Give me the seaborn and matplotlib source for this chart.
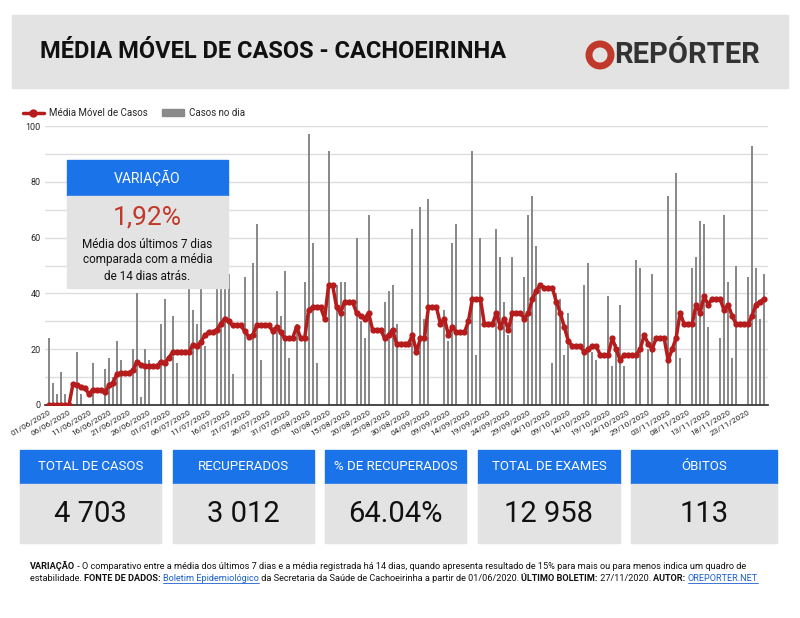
import matplotlib
matplotlib.use("Agg")
import matplotlib.pyplot as plt
from matplotlib.patches import Rectangle, Ellipse
from matplotlib.lines import Line2D
import numpy as np
import pandas as pd
import seaborn as sns

# Data
dates = pd.date_range("2020-06-01", "2020-11-27", freq="D")

media_movel = [
    0, 0, 0, 0, 0, 0, 7.5, 7, 6.5, 6, 4, 5.5, 5.5, 5.5, 4.5, 7, 8, 11, 11.5, 11.5,
    11.5, 12.5, 15.5, 14.5, 14, 14, 14, 14, 15.5, 15, 17, 19, 19, 19, 19, 19, 21.5, 21, 22.5, 25,
    26, 26, 27, 29, 31, 30, 28.5, 28.5, 28.5, 26.5, 24.5, 25, 28.5, 28.5, 28.5, 28.5, 26.5, 28, 26, 24,
    24, 24, 28, 24, 24, 34, 35, 35, 35, 31, 43, 43, 35, 33, 37, 37, 37, 33, 32, 31,
    33, 27, 27, 27, 24, 25, 27, 22, 22, 22, 22, 25, 19, 24, 24, 35, 35, 35, 29, 31,
    25, 28, 26, 26, 26, 30, 38, 38, 38, 29, 29, 29, 33, 28, 31, 27, 33, 33, 33, 31,
    33, 38, 41, 43, 42, 42, 42, 37, 33, 28, 23, 21, 21, 21, 19, 20, 21, 21, 18, 18,
    18, 24, 20, 16, 18, 18, 18, 18, 20, 25, 22, 20, 24, 24, 24, 16, 20, 24, 33, 29,
    29, 29, 36, 33, 39, 36, 38, 38, 38, 34, 36, 32, 29, 29, 29, 29, 32, 36, 37, 38,
]

casos_no_dia = {
    0: 24, 1: 8, 2: 4, 3: 12, 4: 4, 7: 19, 8: 4, 11: 15, 14: 13, 15: 17, 16: 10, 17: 23,
    18: 16, 21: 20, 22: 40, 23: 3, 24: 20, 25: 16, 28: 29, 29: 38, 31: 32, 32: 15,
    35: 48, 36: 34, 37: 29, 38: 50, 39: 21, 42: 48, 43: 55, 44: 44, 45: 47, 46: 11,
    49: 46, 51: 51, 52: 65, 53: 16, 56: 28, 57: 41, 58: 32, 59: 48, 60: 17, 62: 29,
    64: 44, 65: 97, 66: 58, 67: 15, 70: 91, 72: 43, 73: 44, 74: 44, 77: 60, 78: 30,
    79: 24, 80: 68, 84: 37, 85: 41, 86: 43, 87: 29, 91: 63, 93: 71, 94: 31, 95: 74,
    99: 34, 100: 23, 101: 58, 102: 65, 105: 30, 106: 91, 107: 18, 108: 60, 112: 63,
    113: 53, 114: 37, 115: 25, 116: 53, 119: 46, 120: 68, 121: 75, 122: 57, 123: 43,
    126: 15, 127: 40, 128: 38, 129: 18, 130: 33, 134: 43, 135: 51, 136: 19, 137: 16,
    140: 39, 141: 14, 142: 22, 143: 36, 144: 14, 147: 52, 148: 49, 150: 20, 151: 47,
    155: 75, 157: 83, 158: 17, 161: 49, 162: 53, 163: 66, 164: 65, 165: 28, 168: 24,
    169: 68, 170: 44, 171: 17, 172: 50, 175: 46, 176: 93, 177: 49, 178: 31, 179: 47,
}
casos = [casos_no_dia.get(i, 0) for i in range(len(dates))]

kpi_titles = ["TOTAL DE CASOS", "RECUPERADOS", "% DE RECUPERADOS", "TOTAL DE EXAMES", "ÓBITOS"]
kpi_values = ["4 703", "3 012", "64.04%", "12 958", "113"]

BLUE = "#1a73e8"
LIGHT = "#e3e3e3"
RED = "#b71c1c"
BAR = "#8a8a8a"

sns.set_theme(style="white")
plt.rcParams["font.family"] = ["Roboto", "DejaVu Sans"]

W, H = 800, 618
fig = plt.figure(figsize=(8, 6.18), dpi=100)


def px(x, y, w, h):
    # pixel box (top-left origin) -> figure fraction rect
    return (x / W, 1 - (y + h) / H, w / W, h / H)


def box(x, y, w, h, color):
    fig.patches.append(Rectangle((x / W, 1 - (y + h) / H), w / W, h / H,
                                 transform=fig.transFigure, color=color, zorder=0))


def ftext(x, y, s, **kw):
    return fig.text(x / W, 1 - y / H, s, **kw)


# Header
box(12, 15, 776, 73, LIGHT)
ftext(40, 52, "MÉDIA MÓVEL DE CASOS - CACHOEIRINHA", fontsize=17, fontweight="bold",
      color="#111111", va="center")
fig.patches.append(Ellipse((600 / W, 1 - 55 / H), 22 / W, 22 / H, transform=fig.transFigure,
                           fill=False, lw=5, color="#c0392b"))
ftext(614, 55, "REPÓRTER", fontsize=21, fontweight="bold", color="#333333", va="center")

# Main chart
df = pd.DataFrame({"dia": np.arange(len(dates)), "casos": casos, "media": media_movel})
ax = fig.add_axes(px(45, 126, 723, 279))
ax.grid(axis="y", color="#dddddd", lw=1, zorder=0)
ax.set_axisbelow(True)
sns.barplot(data=df, x="dia", y="casos", native_scale=True, color=BAR, width=0.5,
            saturation=1, linewidth=0, edgecolor=BAR, ax=ax, zorder=2)
sns.lineplot(data=df, x="dia", y="media", color=RED, lw=2.5, marker="o", markersize=4.5,
             markeredgewidth=0, ax=ax, zorder=3)
ax.set_ylim(0, 100)
ax.set_xlim(-1, len(dates))
ax.set_yticks(np.arange(0, 101, 10))
ax.set_yticklabels([str(v) if v % 20 == 0 else "" for v in range(0, 101, 10)], fontsize=6.5)
ticks = np.arange(0, len(dates), 5)
ax.set_xticks(ticks)
ax.set_xticklabels([dates[i].strftime("%d/%m/%Y") for i in ticks], rotation=30,
                   ha="right", fontsize=6, rotation_mode="anchor")
ax.tick_params(axis="both", length=0, pad=3)
for s in ["top", "right", "left"]:
    ax.spines[s].set_visible(False)
ax.spines["bottom"].set_color("#333333")
ax.set_xlabel("")
ax.set_ylabel("")

# Legend
handles = [Line2D([0], [0], color=RED, lw=2.5, marker="o", markersize=5),
           Rectangle((0, 0), 1, 1, color=BAR)]
fig.legend(handles, ["Média Móvel de Casos", "Casos no dia"], loc="center left",
           bbox_to_anchor=(14 / W, 1 - 113 / H), ncol=2, frameon=False, fontsize=7,
           handlelength=2.2, columnspacing=1.5, handletextpad=0.5)

# Variação box
box(67, 160, 161, 36, BLUE)
box(67, 196, 161, 92, LIGHT)
ftext(147.5, 178, "VARIAÇÃO", fontsize=10, color="white", ha="center", va="center")
ftext(147.5, 218, "1,92%", fontsize=19, color="#c0392b", ha="center", va="center")
ftext(147.5, 260, "Média dos últimos 7 dias\ncomparada com a média\nde 14 dias atrás.",
      fontsize=8.5, color="#111111", ha="center", va="center", linespacing=1.3)

# KPI boxes
kpi_x = [20, 173, 325, 478, 631]
kpi_w = [141, 141, 141, 142, 146]
for x, w, t, v in zip(kpi_x, kpi_w, kpi_titles, kpi_values):
    box(x, 450, w, 34, BLUE)
    box(x, 484, w, 59, LIGHT)
    ftext(x + w / 2, 467, t, fontsize=9.5, color="white", ha="center", va="center")
    ftext(x + w / 2, 514, v, fontsize=21, color="#111111", ha="center", va="center")

# Footer with mixed styles
fig.canvas.draw()
renderer = fig.canvas.get_renderer()


def runs(x, y, parts):
    for s, style in parts:
        kw = dict(fontsize=6.6, color="#111111", va="baseline")
        if style == "b":
            kw["fontweight"] = "bold"
        elif style == "u":
            kw["color"] = "#1a5fd0"
        t = ftext(x, y, s, **kw)
        bb = t.get_window_extent(renderer)
        if style == "u":
            fig.lines.append(Line2D([x / W, (x + bb.width) / W],
                                    [1 - (y + 1.5) / H] * 2, transform=fig.transFigure,
                                    color="#1a5fd0", lw=0.6))
        x += bb.width


runs(30, 569, [("VARIAÇÃO", "b"),
               (" - O comparativo entre a média dos últimos 7 dias e a média registrada há 14 dias, quando apresenta resultado de 15% para mais ou para menos indica um quadro de", "")])
runs(30, 581, [("estabilidade. ", ""), ("FONTE DE DADOS: ", "b"), ("Boletim Epidemiológico", "u"),
               (" da Secretaria da Saúde de Cachoeirinha a partir de 01/06/2020. ", ""),
               ("ÚLTIMO BOLETIM:", "b"), (" 27/11/2020. ", ""), ("AUTOR: ", "b"),
               ("OREPORTER.NET", "u")])

fig.savefig("out.png", dpi=100)
